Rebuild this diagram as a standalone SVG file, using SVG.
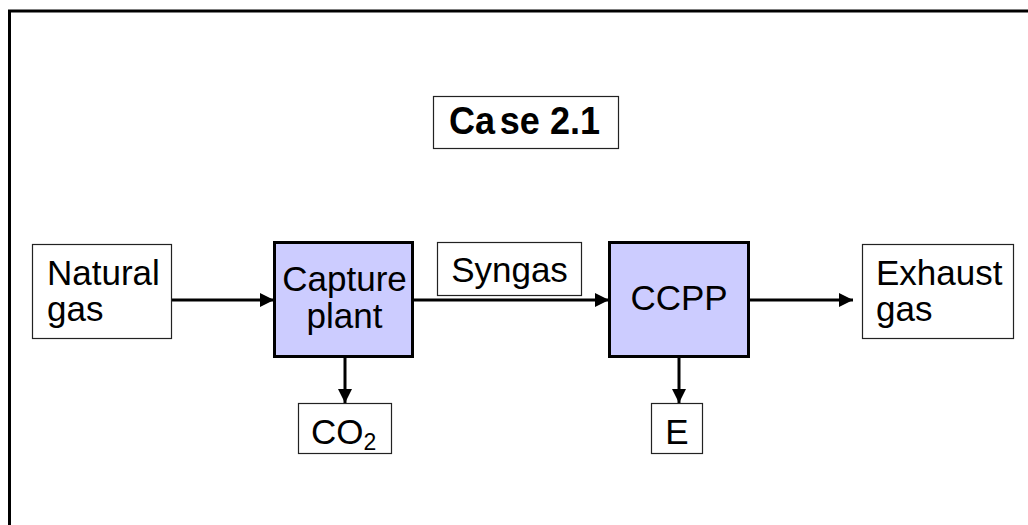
<svg xmlns="http://www.w3.org/2000/svg" width="1028" height="525" viewBox="0 0 1028 525">
<style>
  text { font-family: "Liberation Sans", Arial, sans-serif; fill: #000; }
  .lbl { font-size: 35px; }
  .thin { fill: #fff; stroke: #222; stroke-width: 1.2; }
  .proc { fill: #CCCCFF; stroke: #000; stroke-width: 3; }
  .conn { stroke: #000; stroke-width: 3; fill: none; marker-end: url(#ah); }
</style>
<defs>
  <marker id="ah" markerUnits="userSpaceOnUse" markerWidth="16" markerHeight="16" viewBox="0 0 16 16" refX="15" refY="8" orient="auto">
    <path d="M1,1 L15,8 L1,15 Z" fill="#000"/>
  </marker>
</defs>
<rect x="0" y="0" width="1028" height="525" fill="#fff"/>
<path d="M9.5,530 L9.5,11 L1035,11" fill="none" stroke="#000" stroke-width="3"/>

<g id="title">
  <rect class="thin" x="433.5" y="96.5" width="185" height="52"/>
  <text x="449" y="133.5" font-size="38" font-weight="bold" textLength="151" lengthAdjust="spacingAndGlyphs">Ca<tspan dx="5">se</tspan> 2.1</text>
</g>

<g id="connectors">
  <line class="conn" x1="172" y1="300" x2="274" y2="300"/>
  <line class="conn" x1="413" y1="300" x2="609" y2="300"/>
  <line class="conn" x1="749" y1="300" x2="853" y2="300"/>
  <line class="conn" x1="345" y1="357" x2="345" y2="403"/>
  <line class="conn" x1="679" y1="357" x2="679" y2="403"/>
</g>

<g id="natural-gas">
  <rect class="thin" x="32.5" y="244.5" width="139" height="94"/>
  <text class="lbl" x="47" y="285">Natural</text>
  <text class="lbl" x="47" y="321">gas</text>
</g>

<g id="capture-plant">
  <rect class="proc" x="274.5" y="242.5" width="138" height="114"/>
  <text class="lbl" x="344.5" y="291" text-anchor="middle">Capture</text>
  <text class="lbl" x="344.5" y="328" text-anchor="middle">plant</text>
</g>

<g id="syngas">
  <rect class="thin" x="437.5" y="242.5" width="144" height="53"/>
  <text class="lbl" x="509.5" y="282" text-anchor="middle">Syngas</text>
</g>

<g id="ccpp">
  <rect class="proc" x="609.5" y="242.5" width="139" height="114"/>
  <text class="lbl" x="679" y="310" text-anchor="middle">CCPP</text>
</g>

<g id="exhaust-gas">
  <rect class="thin" x="862.5" y="244.5" width="151" height="94"/>
  <text class="lbl" x="876" y="285">Exhaust</text>
  <text class="lbl" x="876" y="321">gas</text>
</g>

<g id="co2">
  <rect class="thin" x="298.5" y="403.5" width="93" height="50"/>
  <text class="lbl" x="311" y="444">CO<tspan font-size="23" dy="6">2</tspan></text>
</g>

<g id="e">
  <rect class="thin" x="651.5" y="403.5" width="51" height="50"/>
  <text class="lbl" x="677" y="444" text-anchor="middle">E</text>
</g>
</svg>
